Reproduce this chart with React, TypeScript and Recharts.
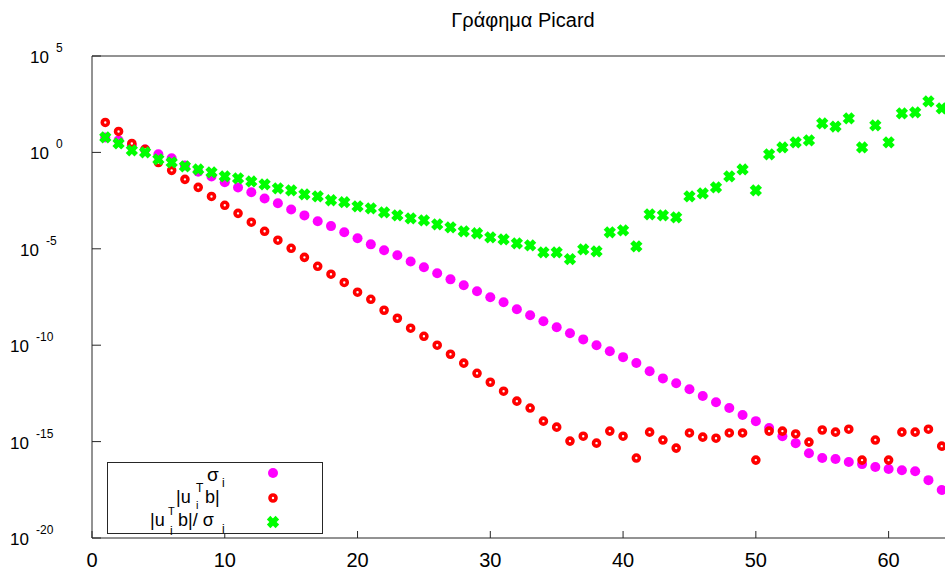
import React from "react";
import { ScatterChart, Scatter, XAxis, YAxis } from "recharts";

const TITLE = "Γράφημα Picard";

const indices: number[] = Array.from({ length: 64 }, (_, k) => k + 1);

const sigma: number[] = [
  6.0, 4.2, 2.3, 1.4, 0.79, 0.49, 0.21, 0.1, 0.057, 0.028,
  0.015, 8.5e-3, 4.1e-3, 2.3e-3, 1.1e-3, 5.4e-4, 2.7e-4, 1.5e-4, 7.2e-5, 3.5e-5,
  1.7e-5, 8.4e-6, 4.6e-6, 2.2e-6, 1.1e-6, 5.4e-7, 2.6e-7, 1.3e-7, 6.3e-8, 3.1e-8,
  1.7e-8, 7.3e-9, 3.6e-9, 1.75e-9, 8.6e-10, 4.2e-10, 2.0e-10, 1.0e-10, 4.9e-11, 2.4e-11,
  1.2e-11, 4.5e-12, 1.9e-12, 1.07e-12, 5.2e-13, 2.3e-13, 1.1e-13, 5.5e-14, 2.4e-14, 1.15e-14,
  5.0e-15, 1.9e-15, 8.3e-16, 2.5e-16, 1.4e-16, 1.24e-16, 8.7e-17, 6.8e-17, 4.8e-17, 3.8e-17,
  3.3e-17, 2.9e-17, 1.0e-17, 3.1e-18,
];

const utb: number[] = [
  35.8, 12.2, 2.9, 1.43, 0.3, 0.117, 0.04, 0.0154, 5.2e-3, 1.8e-3,
  6.9e-4, 2.4e-4, 8.1e-5, 2.8e-5, 1.06e-5, 3.6e-6, 1.24e-6, 4.8e-7, 1.8e-7, 5.6e-8,
  2.4e-8, 6.5e-9, 2.5e-9, 7.6e-10, 2.9e-10, 1.0e-10, 3.4e-11, 1.17e-11, 3.5e-12, 1.2e-12,
  4.1e-13, 1.25e-13, 5.5e-14, 1.15e-14, 5.6e-15, 1.06e-15, 1.9e-15, 8.3e-16, 3.5e-15, 1.9e-15,
  1.4e-16, 3.1e-15, 1.2e-15, 4.6e-16, 2.8e-15, 1.7e-15, 1.5e-15, 2.8e-15, 2.8e-15, 1.1e-16,
  3.5e-15, 3.5e-15, 2.5e-15, 9.4e-16, 4.0e-15, 3.1e-15, 4.4e-15, 1.1e-16, 1.2e-15, 1.1e-16,
  3.1e-15, 3.1e-15, 4.4e-15, 5.8e-16,
];

const ratio: number[] = [
  6.0, 2.9, 1.27, 1.0, 0.43, 0.3, 0.19, 0.13, 0.092, 0.057,
  0.045, 0.031, 0.022, 0.0136, 0.0107, 6.7e-3, 5.2e-3, 3.3e-3, 2.6e-3, 1.6e-3,
  1.25e-3, 7.8e-4, 5.4e-4, 3.8e-4, 3.0e-4, 1.86e-4, 1.3e-4, 8.1e-5, 6.4e-5, 3.9e-5,
  3.1e-5, 1.9e-5, 1.5e-5, 6.6e-6, 6.6e-6, 2.9e-6, 9.4e-6, 7.4e-6, 7.2e-5, 9.1e-5,
  1.35e-5, 6.1e-4, 5.4e-4, 4.3e-4, 5.2e-3, 7.5e-3, 0.0154, 0.057, 0.13, 0.0107,
  0.79, 1.8, 3.3, 4.2, 32, 22, 58, 1.8, 25, 3.3,
  105, 118, 440, 190,
];

const xTicks: number[] = [0, 10, 20, 30, 40, 50, 60];
const xTopTicks: number[] = [10, 20, 30, 40, 50, 60];
const yTicks: number[] = [1e-20, 1e-15, 1e-10, 1e-5, 1, 1e5];
const X_DOMAIN: [number, number] = [0, 65];
const Y_DOMAIN: [number, number] = [1e-20, 1e5];

const sigmaData = indices.map((x, k) => ({ x, y: sigma[k] }));
const utbData = indices.map((x, k) => ({ x, y: utb[k] }));
const ratioData = indices.map((x, k) => ({ x, y: ratio[k] }));

const FRAME = "#262626";
const FONT = "'Liberation Sans', Arial, sans-serif";
const MAGENTA = "#ff00ff";
const RED = "#ff0000";
const GREEN = "#00ff00";

const MagentaDot = ({ cx, cy }: any) => <circle cx={cx} cy={cy} r={5} fill={MAGENTA} />;
const RedRing = ({ cx, cy }: any) => (
  <circle cx={cx} cy={cy} r={3} fill="#ffffff" stroke={RED} strokeWidth={3.6} />
);
const GreenX = ({ cx, cy }: any) => (
  <g stroke={GREEN} strokeWidth={5} strokeLinecap="square">
    <line x1={cx - 2.6} y1={cy - 2.6} x2={cx + 2.6} y2={cy + 2.6} />
    <line x1={cx - 2.6} y1={cy + 2.6} x2={cx + 2.6} y2={cy - 2.6} />
  </g>
);

const BottomTick = ({ x, y, payload }: any) => (
  <g>
    <line x1={x} y1={y} x2={x} y2={y - 7} stroke={FRAME} strokeWidth={1} />
    <text x={x} y={y + 29} textAnchor="middle" fontSize={20} fontFamily={FONT} fill="#000">
      {payload.value}
    </text>
  </g>
);

const LeftTick = ({ x, y, payload }: any) => {
  const exp = String(Math.round(Math.log10(payload.value)));
  const end10 = x - 43 - 10 * (exp.length - 1);
  return (
    <g>
      <line x1={x} y1={y} x2={x + 9} y2={y} stroke={FRAME} strokeWidth={1} />
      <text x={end10} y={y + 7} textAnchor="end" fontSize={17} fontFamily={FONT} fill="#000">
        10
      </text>
      <text x={end10 + 7} y={y - 4} textAnchor="start" fontSize={12} fontFamily={FONT} fill="#000">
        {exp}
      </text>
    </g>
  );
};

const Legend = () => (
  <svg
    width={945}
    height={574}
    style={{ position: "absolute", left: 0, top: 0, pointerEvents: "none" }}
  >
    <text x={523} y={27} textAnchor="middle" fontSize={20} fontFamily={FONT} fill="#000">
      {TITLE}
    </text>
    <rect x={107.5} y={462.5} width={215} height={71} fill="#ffffff" stroke={FRAME} strokeWidth={1} />
    <g fontFamily={FONT} fill="#000">
      <text x={207} y={481} fontSize={19}>σ</text>
      <text x={222} y={487} fontSize={12}>i</text>

      <text x={176} y={503} fontSize={18}>|u</text>
      <text x={196} y={492} fontSize={12}>T</text>
      <text x={196} y={509} fontSize={11}>i</text>
      <text x={205} y={503} fontSize={18}>b|</text>

      <text x={150} y={526} fontSize={18}>|u</text>
      <text x={168} y={515} fontSize={11}>T</text>
      <text x={170} y={535} fontSize={12}>i</text>
      <text x={178} y={526} fontSize={18}>b|/ σ</text>
      <text x={222} y={533} fontSize={12}>i</text>
    </g>
    <MagentaDot cx={273} cy={473} />
    <RedRing cx={273} cy={498} />
    <GreenX cx={273} cy={522} />
  </svg>
);

export default function App() {
  return (
    <div
      style={{
        position: "absolute",
        left: 0,
        top: 0,
        width: 945,
        height: 574,
        overflow: "hidden",
        background: "#ffffff",
      }}
    >
      <ScatterChart
        width={965}
        height={574}
        margin={{ top: 56, right: 10, bottom: 6, left: 32 }}
      >
        <XAxis
          xAxisId="b"
          dataKey="x"
          type="number"
          domain={X_DOMAIN}
          ticks={xTicks}
          interval={0}
          allowDataOverflow
          height={30}
          tickSize={0}
          tickMargin={0}
          tickLine={false}
          axisLine={{ stroke: FRAME, strokeWidth: 1 }}
          tick={<BottomTick />}
        />
        <XAxis
          xAxisId="t"
          dataKey="x"
          type="number"
          orientation="top"
          mirror
          domain={X_DOMAIN}
          ticks={xTopTicks}
          interval={0}
          allowDataOverflow
          tickSize={7}
          tick={false}
          tickLine={{ stroke: FRAME, strokeWidth: 1 }}
          axisLine={{ stroke: FRAME, strokeWidth: 1 }}
        />
        <YAxis
          yAxisId="l"
          dataKey="y"
          type="number"
          scale="log"
          domain={Y_DOMAIN}
          ticks={yTicks}
          interval={0}
          allowDataOverflow
          width={60}
          tickSize={0}
          tickMargin={0}
          tickLine={false}
          axisLine={{ stroke: FRAME, strokeWidth: 1 }}
          tick={<LeftTick />}
        />
        <YAxis
          yAxisId="r"
          dataKey="y"
          type="number"
          scale="log"
          orientation="right"
          mirror
          domain={Y_DOMAIN}
          ticks={yTicks}
          interval={0}
          allowDataOverflow
          tickSize={11}
          tick={false}
          tickLine={{ stroke: FRAME, strokeWidth: 1 }}
          axisLine={{ stroke: FRAME, strokeWidth: 1 }}
        />
        <Scatter
          xAxisId="b"
          yAxisId="l"
          data={sigmaData}
          isAnimationActive={false}
          shape={(p: any) => <MagentaDot cx={p.cx} cy={p.cy} />}
        />
        <Scatter
          xAxisId="b"
          yAxisId="l"
          data={utbData}
          isAnimationActive={false}
          shape={(p: any) => <RedRing cx={p.cx} cy={p.cy} />}
        />
        <Scatter
          xAxisId="b"
          yAxisId="l"
          data={ratioData}
          isAnimationActive={false}
          shape={(p: any) => <GreenX cx={p.cx} cy={p.cy} />}
        />
      </ScatterChart>
      <Legend />
    </div>
  );
}
